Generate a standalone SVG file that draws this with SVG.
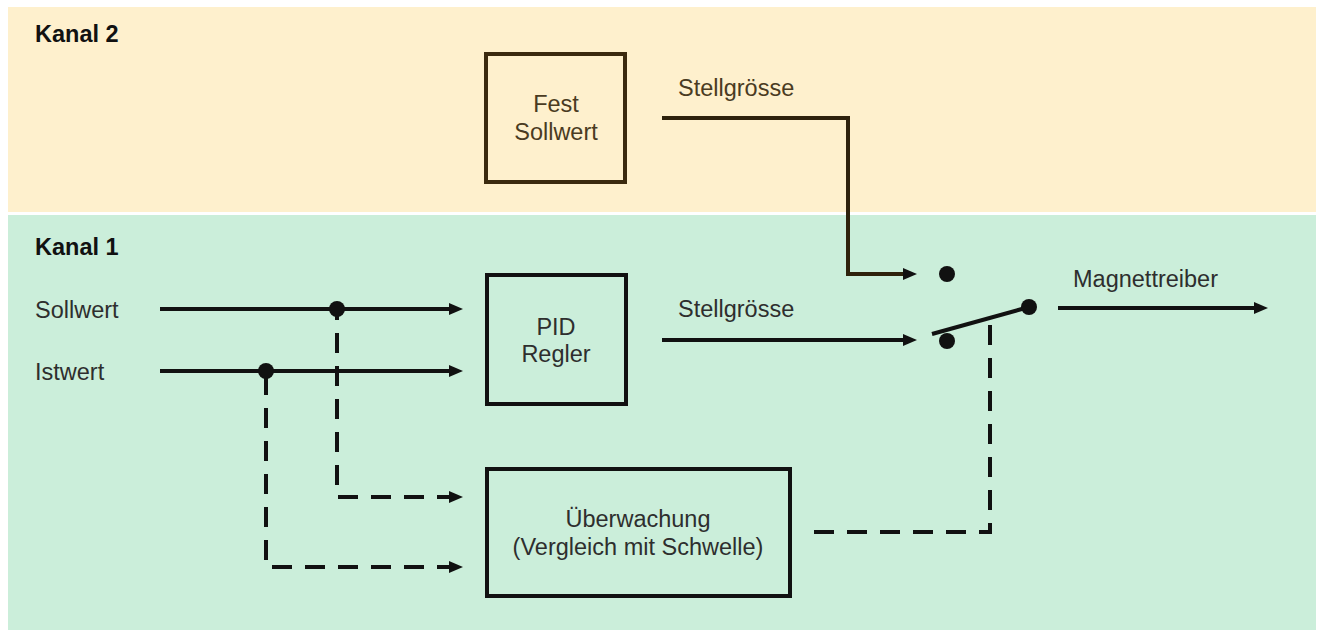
<svg xmlns="http://www.w3.org/2000/svg" width="1321" height="630" viewBox="0 0 1321 630">
  <style>
    .lbl { font-family: "Liberation Sans", Arial, sans-serif; font-size: 23.5px; fill: #2e2e2e; }
    .lblk2 { font-family: "Liberation Sans", Arial, sans-serif; font-size: 23.5px; fill: #4a3b22; }
    .title { font-family: "Liberation Sans", Arial, sans-serif; font-size: 23.5px; font-weight: bold; fill: #111; }
    .mid { text-anchor: middle; }
    .box { fill: none; stroke: #111; stroke-width: 4; }
    .box2 { fill: none; stroke: #3b2a0f; stroke-width: 4; }
    .wire { fill: none; stroke: #111; stroke-width: 4; stroke-linejoin: miter; }
    .wire2 { fill: none; stroke: #2e220c; stroke-width: 4; stroke-linejoin: miter; }
    .dash { fill: none; stroke: #111; stroke-width: 4; stroke-dasharray: 20 13; }
    .dot { fill: #111; }
  </style>
  <defs>
    <marker id="arr" markerUnits="userSpaceOnUse" markerWidth="15" markerHeight="13" refX="8" refY="6" orient="auto-start-reverse">
      <path d="M0,0 L14,6 L0,12 z" fill="#111"/>
    </marker>
  </defs>

  <g id="background">
    <rect x="8" y="7" width="1308" height="205" fill="#FEF0CD"/>
    <rect x="8" y="215" width="1308" height="415" fill="#CBEEDA"/>
    <text class="title" x="35" y="42">Kanal 2</text>
    <text class="title" x="35" y="255">Kanal 1</text>
  </g>

  <g id="node-fest-sollwert">
    <rect class="box2" x="486" y="54" width="139" height="128"/>
    <text class="lblk2 mid" x="556" y="112">Fest</text>
    <text class="lblk2 mid" x="556" y="140">Sollwert</text>
  </g>

  <g id="node-pid">
    <rect class="box" x="487" y="275" width="139" height="129"/>
    <text class="lbl mid" x="556" y="335">PID</text>
    <text class="lbl mid" x="556" y="362">Regler</text>
  </g>

  <g id="node-ueberwachung">
    <rect class="box" x="487" y="469" width="303" height="127"/>
    <text class="lbl mid" x="638" y="527">Überwachung</text>
    <text class="lbl mid" x="638" y="555">(Vergleich mit Schwelle)</text>
  </g>

  <g id="node-inputs">
    <text class="lbl" x="35" y="318">Sollwert</text>
    <text class="lbl" x="35" y="380">Istwert</text>
  </g>

  <g id="node-switch">
    <circle class="dot" cx="947" cy="274" r="8"/>
    <circle class="dot" cx="947" cy="341" r="8"/>
    <circle class="dot" cx="1029" cy="307" r="8"/>
    <line class="wire" x1="932" y1="334" x2="1029" y2="307"/>
  </g>

  <g id="connectors">
    <path class="wire" d="M160,309 H457" marker-end="url(#arr)"/>
    <path class="wire" d="M160,371 H457" marker-end="url(#arr)"/>
    <circle class="dot" cx="337" cy="309" r="8"/>
    <circle class="dot" cx="266" cy="371" r="8"/>
    <path class="dash" d="M457,497 H337 V309" marker-start="url(#arr)"/>
    <path class="dash" d="M457,567 H266 V371" marker-start="url(#arr)"/>
    <path class="wire2" d="M662,118 H848 V274 H911" marker-end="url(#arr)"/>
    <path class="wire" d="M662,340 H911" marker-end="url(#arr)"/>
    <path class="wire" d="M1058,308 H1262" marker-end="url(#arr)"/>
    <path class="dash" d="M814,532 H990 V322"/>
    <text class="lblk2" x="678" y="96">Stellgrösse</text>
    <text class="lbl" x="678" y="317">Stellgrösse</text>
    <text class="lbl" x="1073" y="287">Magnettreiber</text>
  </g>
</svg>
